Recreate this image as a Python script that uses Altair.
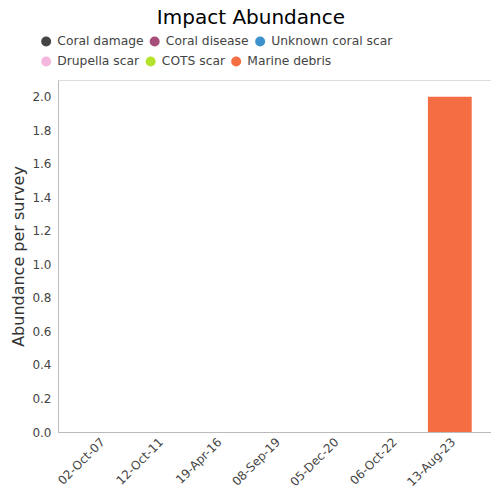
import altair as alt
import pandas as pd

dates = ["02-Oct-07", "12-Oct-11", "19-Apr-16", "08-Sep-19", "05-Dec-20", "06-Oct-22", "13-Aug-23"]
categories = ["Coral damage", "Coral disease", "Unknown coral scar", "Drupella scar", "COTS scar", "Marine debris"]
colors = ["#444444", "#a64d79", "#3e92cc", "#f4b6dc", "#b5e22b", "#f46d43"]
marine_debris = [0, 0, 0, 0, 0, 0, 2.0]
y_ticks = [0, 0.2, 0.4, 0.6, 0.8, 1.0, 1.2, 1.4, 1.6, 1.8, 2.0]

rows = []
for i, d in enumerate(dates):
    for c in categories:
        v = marine_debris[i] if c == "Marine debris" else 0
        rows.append({"date": d, "impact": c, "value": v})
df = pd.DataFrame(rows)

x_enc = alt.X("date:N", sort=dates, title=None,
              scale=alt.Scale(paddingInner=0.25, paddingOuter=0.33),
              axis=alt.Axis(labelAngle=-45, ticks=False, labelFontSize=12, labelColor="#444",
                            labelPadding=4, domainColor="#bbbbbb"))
y_enc = alt.Y("value:Q", title="Abundance per survey", stack="zero",
              scale=alt.Scale(domain=[0, 2.1], nice=False),
              axis=alt.Axis(values=y_ticks, format=".1f",
                            grid=False, ticks=False, labelFontSize=12, labelColor="#444",
                            labelPadding=7, titlePadding=5,
                            titleFontSize=16, titleFontWeight="normal", titleColor="#333",
                            domainColor="#bbbbbb"))


def legend_for(y):
    return alt.Legend(orient="none", legendX=-18, legendY=y, title=None,
                      direction="horizontal", symbolType="circle",
                      symbolSize=100, labelFontSize=12.3, labelColor="#444",
                      labelOffset=5, columnPadding=4.5, symbolOpacity=1)


groups = [categories[:3], categories[3:]]
legend_y = [-45, -25]
layers = []
for k, grp in enumerate(groups):
    layers.append(
        alt.Chart(df).transform_filter(alt.FieldOneOfPredicate(field="impact", oneOf=grp))
        .mark_bar().encode(
            x=x_enc, y=y_enc,
            color=alt.Color("impact:N", sort=grp,
                            scale=alt.Scale(domain=grp, range=colors[3 * k:3 * k + 3]),
                            legend=legend_for(legend_y[k])),
        )
    )

chart = alt.layer(*layers).resolve_scale(color="independent").properties(
    width=433, height=352,
    title=alt.TitleParams("Impact Abundance", fontSize=20, fontWeight="normal", color="#000",
                          anchor="middle", frame="bounds", offset=7),
).configure_view(stroke=None).configure(
    font="DejaVu Sans", padding={"left": 2, "top": 0, "right": 0, "bottom": 0}
)

chart.save("out.html", embed_options={"renderer": "svg", "actions": False})
